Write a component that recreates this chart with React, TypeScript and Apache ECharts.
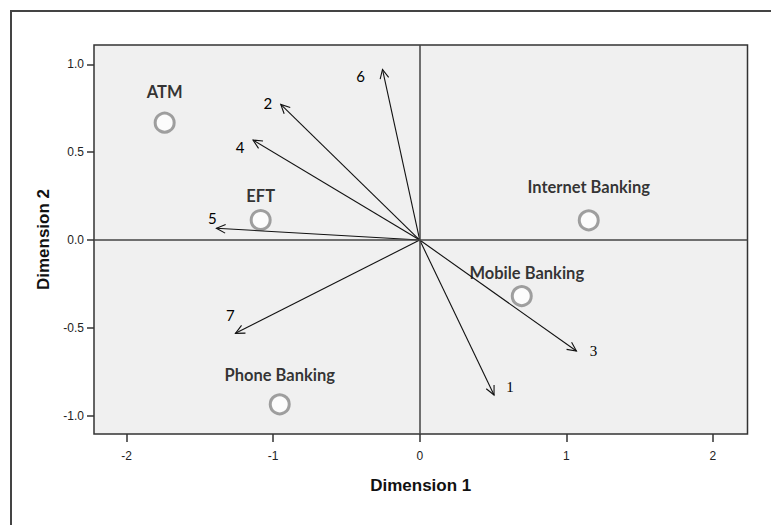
import React, { useEffect, useRef } from "react";
import * as echarts from "echarts";

// Object points (category quantifications)
const pointNames = ["ATM", "EFT", "Internet Banking", "Mobile Banking", "Phone Banking"];
const pointX = [-1.74, -1.085, 1.153, 0.696, -0.955];
const pointY = [0.668, 0.114, 0.112, -0.319, -0.935];

// Variable vectors (arrows from origin)
const arrowNames = ["1", "2", "3", "4", "5", "6", "7"];
const arrowX = [0.507, -0.948, 1.069, -1.137, -1.387, -0.254, -1.257];
const arrowY = [-0.882, 0.772, -0.632, 0.569, 0.067, 0.971, -0.531];

// Axis tick values
const xTicks = [-2, -1, 0, 1, 2];
const yTicks = [-1.0, -0.5, 0.0, 0.5, 1.0];

const App: React.FC = () => {
  const ref = useRef<HTMLDivElement>(null);

  useEffect(() => {
    if (!ref.current) return;
    const chart = echarts.init(ref.current, null, { renderer: "svg" });

    const labelDist: Record<string, number> = {
      "ATM": 11,
      "EFT": 4,
      "Internet Banking": 14,
      "Mobile Banking": 4,
      "Phone Banking": 10,
    };
    const labelDx: Record<string, number> = {
      "Mobile Banking": 5,
    };
    const arrowLabelOffset: Record<string, [number, number]> = {
      "1": [16, -8],
      "2": [-13, -1],
      "3": [17, 0],
      "4": [-13, 7],
      "5": [-4, -10],
      "6": [-22, 7],
      "7": [-5, -18],
    };
    const serifLabels: Record<string, boolean> = { "1": true, "3": true };

    const pointData = pointNames.map((n, i) => ({
      name: n,
      value: [pointX[i], pointY[i]],
      label: { distance: labelDist[n], offset: [labelDx[n] || 0, 0] },
    }));
    const arrowData = arrowNames.map((n, i) => ({ name: n, value: [arrowX[i], arrowY[i]] }));

    const option: any = {
      animation: false,
      backgroundColor: "#ffffff",
      graphic: [
        {
          type: "rect",
          shape: { x: 11, y: 11, width: 900, height: 540 },
          style: { fill: "none", stroke: "#444", lineWidth: 2 },
          z: -10,
          silent: true,
        },
      ],
      grid: {
        left: 94,
        top: 45,
        width: 653.5,
        height: 389,
        show: true,
        backgroundColor: "#f0f0f0",
        borderColor: "#333",
        borderWidth: 1.5,
      },
      xAxis: {
        type: "value",
        min: -2.222,
        max: 2.236,
        name: "Dimension 1",
        nameLocation: "middle",
        nameGap: 43,
        nameTextStyle: { fontFamily: "Liberation Sans", fontWeight: "bold", fontSize: 17, color: "#111" },
        splitLine: { show: false },
        axisLine: { show: false, onZero: false },
        axisTick: { show: true, customValues: xTicks, length: 8, lineStyle: { color: "#333", width: 1.5 } },
        axisLabel: {
          customValues: xTicks,
          formatter: (v: number) => String(v),
          fontFamily: "Liberation Sans",
          fontSize: 12,
          color: "#222",
          margin: 16,
        },
      },
      yAxis: {
        type: "value",
        min: -1.104,
        max: 1.11,
        name: "Dimension 2",
        nameLocation: "middle",
        nameGap: 37,
        nameTextStyle: { fontFamily: "Liberation Sans", fontWeight: "bold", fontSize: 17, color: "#111" },
        splitLine: { show: false },
        axisLine: { show: false, onZero: false },
        axisTick: { show: true, customValues: yTicks, length: 7, lineStyle: { color: "#333", width: 1.5 } },
        axisLabel: {
          customValues: yTicks,
          formatter: (v: number) => v.toFixed(1),
          fontFamily: "Liberation Sans",
          fontSize: 12,
          color: "#222",
          margin: 10,
        },
      },
      series: [
        {
          type: "scatter",
          data: pointData,
          symbol: "circle",
          symbolSize: 19,
          itemStyle: { color: "#ffffff", borderColor: "#888", borderWidth: 3 },
          label: {
            show: true,
            position: "top",
            formatter: "{b}",
            fontFamily: "Lato",
            fontWeight: "bold",
            fontSize: 16.5,
            color: "#000",
          },
          markLine: {
            silent: true,
            symbol: "none",
            label: { show: false },
            lineStyle: { color: "#444", width: 1.5, type: "solid" },
            data: [{ xAxis: 0 }, { yAxis: 0 }],
          },
          z: 3,
        },
        {
          type: "custom",
          data: arrowData,
          z: 4,
          renderItem: (params: any, api: any) => {
            const x = api.value(0);
            const y = api.value(1);
            const name = arrowNames[params.dataIndex];
            const o = api.coord([0, 0]);
            const t = api.coord([x, y]);
            const ang = Math.atan2(t[1] - o[1], t[0] - o[0]);
            const L = 10;
            const a = Math.PI / 7;
            const p1 = [t[0] - L * Math.cos(ang - a), t[1] - L * Math.sin(ang - a)];
            const p2 = [t[0] - L * Math.cos(ang + a), t[1] - L * Math.sin(ang + a)];
            const off = arrowLabelOffset[name] || [0, 0];
            return {
              type: "group",
              children: [
                {
                  type: "line",
                  shape: { x1: o[0], y1: o[1], x2: t[0], y2: t[1] },
                  style: { stroke: "#111", lineWidth: 1.1 },
                },
                {
                  type: "polyline",
                  shape: { points: [p1, t, p2] },
                  style: { stroke: "#111", lineWidth: 1.1, fill: "none" },
                },
                {
                  type: "text",
                  x: t[0] + off[0],
                  y: t[1] + off[1],
                  style: {
                    text: name,
                    fontFamily: serifLabels[name] ? "Liberation Serif" : "Lato",
                    fontSize: 15,
                    fill: "#000",
                    align: "center",
                    verticalAlign: "middle",
                  },
                },
              ],
            };
          },
        },
      ],
    };

    chart.setOption(option);
    return () => chart.dispose();
  }, []);

  return (
    <div
      ref={ref}
      style={{ position: "fixed", left: 0, top: 0, width: 771, height: 525 }}
    />
  );
};

export default App;
